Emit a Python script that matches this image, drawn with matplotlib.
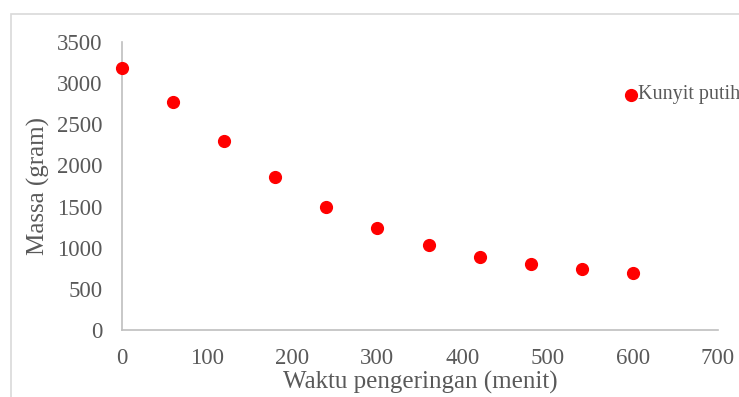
import matplotlib.pyplot as plt
from matplotlib.patches import Rectangle

# data
waktu = [0, 60, 120, 180, 240, 300, 360, 420, 480, 540, 600]
massa = [3185, 2775, 2300, 1855, 1500, 1235, 1030, 885, 805, 738, 690]
label = 'Kunyit putih'

grey = '#595959'
plt.rcParams['font.family'] = ['Liberation Serif', 'DejaVu Serif']

fig = plt.figure(figsize=(7.39, 3.97), dpi=100)
ax = fig.add_axes([122/739, 1-330/397, (718-122)/739, (330-42)/397])

ax.scatter(waktu, massa, s=72, color='#ff0000', clip_on=False, zorder=3)

ax.set_xlim(0, 700)
ax.set_ylim(0, 3500)
ax.set_xticks(range(0, 701, 100))
ax.set_yticks(range(0, 3501, 500))
for s in ['top', 'right']:
    ax.spines[s].set_visible(False)
for s in ['left', 'bottom']:
    ax.spines[s].set_color('#bfbfbf')
    ax.spines[s].set_linewidth(1.2)
ax.tick_params(length=0, labelsize=16.5, colors=grey)
ax.tick_params(axis='y', pad=14)
ax.tick_params(axis='x', pad=13)

ax.set_xlabel('Waktu pengeringan (menit)', fontsize=18, color=grey, labelpad=1)
ax.set_ylabel('Massa (gram)', fontsize=18, color=grey, labelpad=5)

# legend entry at the right edge
fig.lines.append(plt.Line2D([631/739], [1-95/397], marker='o', markersize=8.5,
                            color='#ff0000', linestyle='none', transform=fig.transFigure))
fig.text(638/739, 1-95/397, label, fontsize=14.5, color=grey, va='center', ha='left')

# chart frame
fig.patches.append(Rectangle((11/739, -0.1), 1.0, 1-14/397+0.1, transform=fig.transFigure,
                             fill=False, edgecolor='#d9d9d9', linewidth=1.2))

fig.savefig('out.png', dpi=100)
